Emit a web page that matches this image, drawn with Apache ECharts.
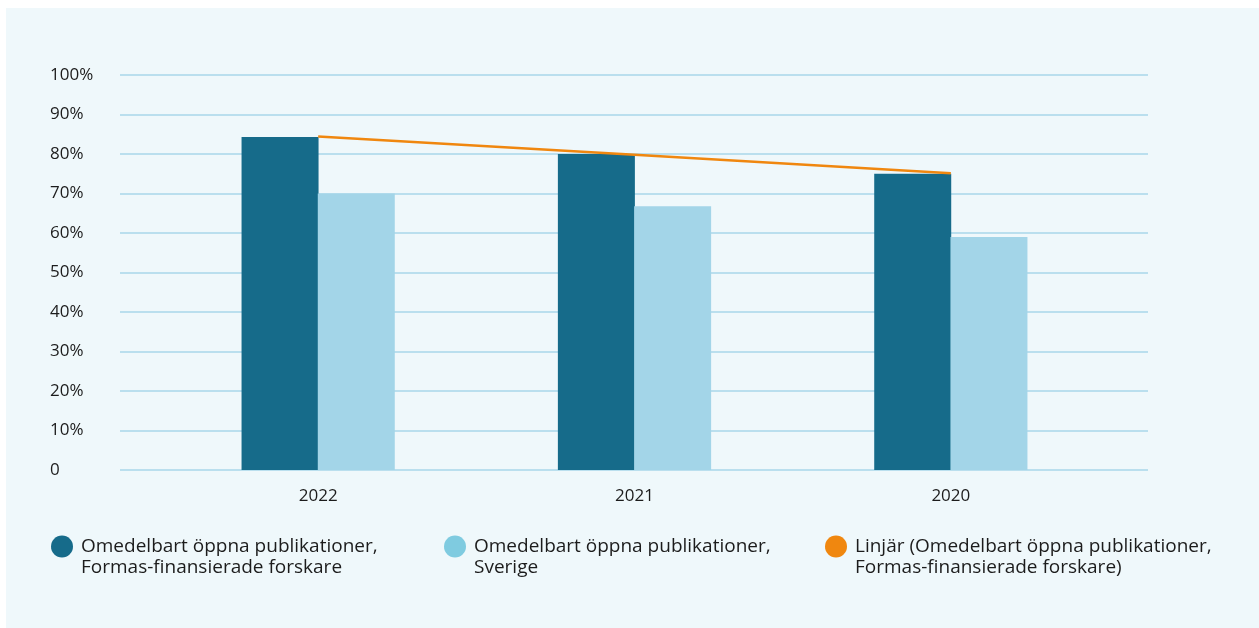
<!DOCTYPE html>
<html>
<head>
<meta charset="utf-8">
<script src="https://cdn.jsdelivr.net/npm/echarts@6/dist/echarts.min.js"></script>
<style>
html,body{margin:0;padding:0;background:#ffffff;}
#c{width:1259px;height:628px;}
</style>
</head>
<body>
<div id="c"></div>
<script>
const categories = ['2022', '2021', '2020'];
const formasValues = [84.3, 80.0, 75.0];
const sverigeValues = [70.0, 66.8, 59.0];
const trendValues = [84.4, 79.8, 75.1];
const yTicks = [0, 10, 20, 30, 40, 50, 60, 70, 80, 90, 100];
const seriesNames = [
  'Omedelbart öppna publikationer,\nFormas-finansierade forskare',
  'Omedelbart öppna publikationer,\nSverige',
  'Linjär (Omedelbart öppna publikationer,\nFormas-finansierade forskare)'
];

const FONT = '"Open Sans", "Noto Sans", sans-serif';
const chart = echarts.init(document.getElementById('c'));

const legendText = {
  fontFamily: FONT, fontSize: 19, color: '#1c1c1c', lineHeight: 21,
  padding: [0, 0, 0, 3]
};
function mkLegend(i, left, color) {
  return {
    left: left, top: 515, padding: 0, orient: 'horizontal', icon: 'circle',
    itemWidth: 22, itemHeight: 22, itemGap: 0, selectedMode: false,
    textStyle: legendText,
    formatter: function (name) { return ' \n' + name; },
    data: [{ name: seriesNames[i], itemStyle: { color: color } }]
  };
}

chart.setOption({
  backgroundColor: '#ffffff',
  animation: false,
  graphic: [{
    type: 'rect', z: -10, silent: true,
    shape: { x: 6, y: 8, width: 1253, height: 620 },
    style: { fill: '#eff8fb' }
  }],
  legend: [
    mkLegend(0, 51, '#166b8a'),
    mkLegend(1, 444, '#7fcbe0'),
    mkLegend(2, 825, '#f0870f')
  ],
  grid: [
    { left: 120, right: 111, top: 75, bottom: 158 },
    { left: 160, right: 150, top: 75, bottom: 158 }
  ],
  xAxis: [
    { type: 'value', gridIndex: 0, show: false, min: 0, max: 1 },
    {
      type: 'category', gridIndex: 1, data: categories,
      axisLine: { show: false }, axisTick: { show: false },
      axisLabel: { fontFamily: FONT, fontSize: 17, color: '#1c1c1c', margin: 18 }
    }
  ],
  yAxis: [
    {
      type: 'value', gridIndex: 0, min: 0, max: 100, interval: 10,
      axisLine: { show: false }, axisTick: { show: false },
      splitLine: { lineStyle: { color: '#a9d7ea', width: 1.5 } },
      axisLabel: {
        align: 'left', margin: 70, fontFamily: FONT, fontSize: 17, color: '#1c1c1c',
        formatter: function (v) { return yTicks.indexOf(v) >= 0 ? (v === 0 ? '0' : v + '%') : ''; }
      }
    },
    {
      type: 'value', gridIndex: 1, min: 0, max: 100, interval: 10, show: false,
      splitLine: { show: false }
    }
  ],
  series: [
    {
      name: seriesNames[0], type: 'bar', xAxisIndex: 1, yAxisIndex: 1,
      data: formasValues, barWidth: 77, barGap: '-1%',
      itemStyle: { color: '#166b8a' }
    },
    {
      name: seriesNames[1], type: 'bar', xAxisIndex: 1, yAxisIndex: 1,
      data: sverigeValues, barWidth: 77,
      itemStyle: { color: '#a3d5e8' }
    },
    {
      name: seriesNames[2], type: 'line', xAxisIndex: 1, yAxisIndex: 1,
      data: trendValues, showSymbol: false, symbol: 'none', z: 5,
      lineStyle: { color: '#f0870f', width: 2.5 },
      itemStyle: { color: '#f0870f' }
    }
  ]
});
</script>
</body>
</html>
